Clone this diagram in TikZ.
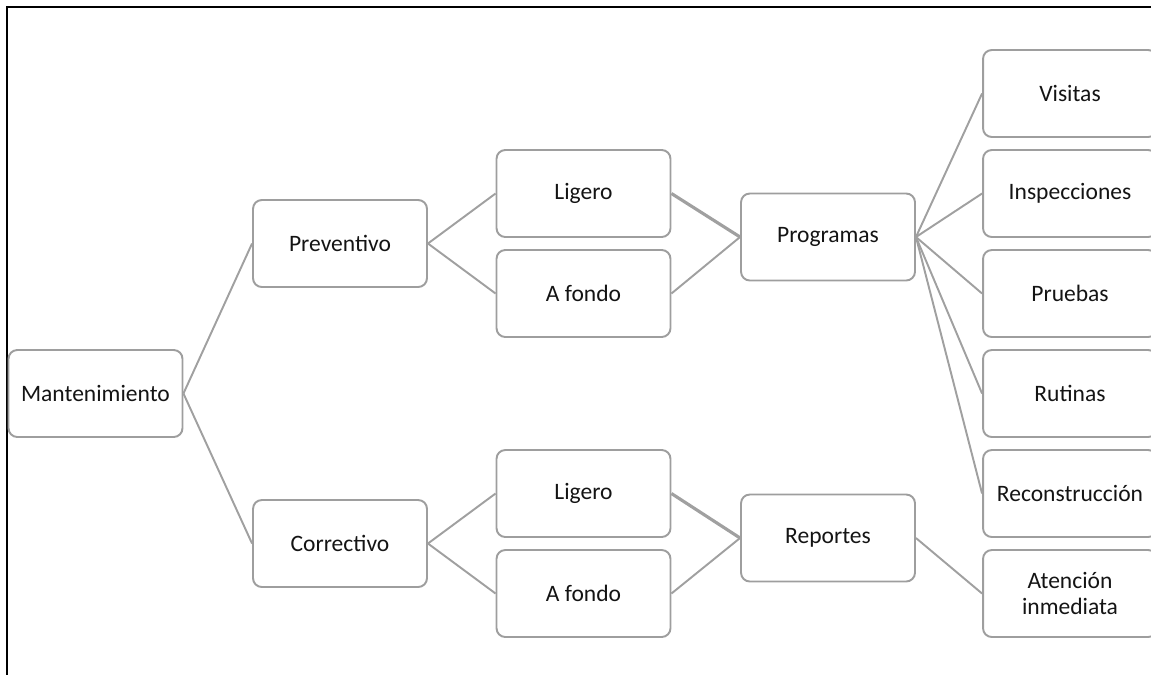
\documentclass[tikz,border=0pt]{standalone}
\usepackage{xcolor}
\usepackage{fontspec}
\usepackage{tikz}
\usetikzlibrary{positioning}
\setmainfont{Carlito}
\definecolor{boxgray}{RGB}{158,158,158}
\definecolor{linegray}{RGB}{160,160,160}
\definecolor{textblack}{RGB}{20,20,20}
\tikzset{
    block/.style={
        draw = boxgray, line width = 1.1pt,
        rounded corners = 5pt,
        minimum width = 3.48cm,
        minimum height = 1.74cm,
        align = center, inner sep = 0pt,
        text = textblack,
        font = \fontsize{13.4}{14.6}\selectfont
    },
    link/.style = {draw = linegray, line width = 1.1pt},
    heavylink/.style = {draw = linegray, line width = 1.8pt}
}

\begin{document}
\begin{tikzpicture}[x=0.02cm, y=-0.02cm]

    % Page size
    \useasboundingbox (0,0) rectangle (1151,674);
    \clip (0,0) rectangle (1151,674);

    % Frame
    \draw[line width = 1.1pt] (1151,7) -- (7,7) -- (7,680);

    % Root
    \node[block] (mant) at (95.5,393.5) {Mantenimiento};

    % Types
    \node[block] (prev) at (340,243.5) {Preventivo};
    \node[block] (corr) at (340,543.5) {Correctivo};

    % Levels
    \node[block] (ligP) at (583.5,193.5) {Ligero};
    \node[block] (fondoP) at (583.5,293.5) {A fondo};
    \node[block] (ligC) at (583.5,493.5) {Ligero};
    \node[block] (fondoC) at (583.5,593.5) {A fondo};

    % Means
    \node[block] (prog) at (828,237) {Programas};
    \node[block] (rep) at (828,538) {Reportes};

    % Activities
    \node[block] (vis) at (1070,93.5) {Visitas};
    \node[block] (insp) at (1070,193.5) {Inspecciones};
    \node[block] (prue) at (1070,293.5) {Pruebas};
    \node[block] (rut) at (1070,393.5) {Rutinas};
    \node[block] (recon) at (1070,493.5) {Reconstrucción};
    \node[block] (aten) at (1070,593.5) {Atención\\inmediata};

    % Links
    \path[link] (mant.east) -- (prev.west);
    \path[link] (mant.east) -- (corr.west);
    \path[link] (prev.east) -- (ligP.west);
    \path[link] (prev.east) -- (fondoP.west);
    \path[link] (corr.east) -- (ligC.west);
    \path[link] (corr.east) -- (fondoC.west);
    \path[heavylink] (ligP.east) -- (prog.west);
    \path[link] (fondoP.east) -- (prog.west);
    \path[heavylink] (ligC.east) -- (rep.west);
    \path[link] (fondoC.east) -- (rep.west);
    \foreach \leaf in {vis, insp, prue, rut, recon}
        \path[link] (prog.east) -- (\leaf.west);
    \path[link] (rep.east) -- (aten.west);

\end{tikzpicture}
\end{document}
